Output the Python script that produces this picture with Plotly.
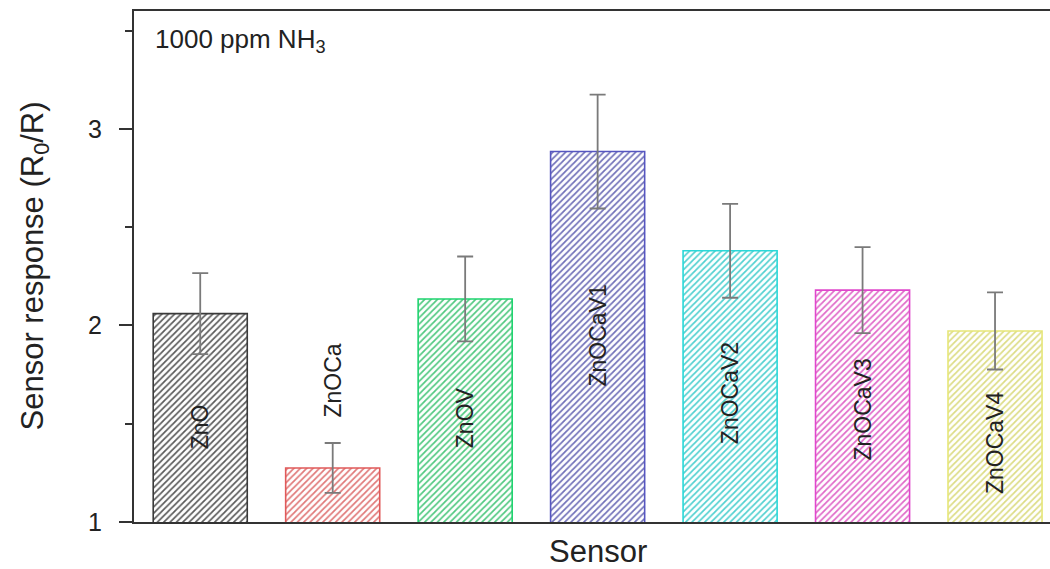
import plotly.graph_objects as go

# ---- data ----
sensors = ["ZnO", "ZnOCa", "ZnOV", "ZnOCaV1", "ZnOCaV2", "ZnOCaV3", "ZnOCaV4"]
response = [2.06, 1.275, 2.135, 2.885, 2.38, 2.18, 1.972]
response_err = [0.206, 0.127, 0.216, 0.29, 0.239, 0.219, 0.196]
label_y = [1.483, 1.718, 1.529, 1.947, 1.656, 1.570, 1.402]
y_ticks = [1, 2, 3]
y_minor_ticks = [1.5, 2.5, 3.5]

# ---- styles ----
line_colors = ["#3a3a3a", "#e05a5a", "#1fd36f", "#5656c0", "#2ad8d8", "#e048cc", "#e6e678"]
hatch_colors = ["#5a5a5a", "#e07878", "#50c880", "#7070b8", "#50d0d0", "#e068c8", "#dcdc84"]
bg_colors = ["#ededed", "#fcecec", "#e8f8ee", "#ececf8", "#e8fafa", "#fbecf8", "#fbfbe4"]

fig = go.Figure()
fig.add_trace(go.Bar(
    x=sensors,
    y=response,
    width=0.71,
    marker=dict(
        color=hatch_colors,
        line=dict(color=line_colors, width=1.6),
        pattern=dict(shape="/", fgcolor=hatch_colors, bgcolor=bg_colors,
                     size=4.5, solidity=0.38, fillmode="replace"),
    ),
    error_y=dict(type="data", array=response_err, color="#7a7a7a",
                 thickness=1.8, width=8),
    showlegend=False,
))

font_family = "Liberation Sans, Arial, sans-serif"

for s, ly in zip(sensors, label_y):
    fig.add_annotation(x=s, y=ly, xref="x", yref="y", text=s, textangle=-90,
                       showarrow=False, font=dict(family=font_family, size=23, color="#222222"))

fig.add_annotation(x=0.0207, y=0.978, xref="paper", yref="paper",
                   xanchor="left", yanchor="top", showarrow=False,
                   text="1000 ppm NH<sub>3</sub>",
                   font=dict(family=font_family, size=26, color="#222222"))

fig.add_annotation(x=0, y=0.5, xref="paper", yref="paper", xshift=-100,
                   xanchor="center", yanchor="middle", textangle=-90, showarrow=False,
                   text="Sensor response (R<sub>0</sub>/R)",
                   font=dict(family=font_family, size=31, color="#222222"))

fig.add_annotation(x=0.5066, y=0, xref="paper", yref="paper", yshift=-29,
                   xanchor="center", yanchor="middle", showarrow=False,
                   text="Sensor",
                   font=dict(family=font_family, size=31, color="#222222"))

fig.update_layout(
    width=1050, height=569,
    margin=dict(l=134, r=0, t=11, b=47),
    paper_bgcolor="white", plot_bgcolor="white",
    bargap=0.29,
    font=dict(family=font_family, color="#222222"),
)
fig.update_xaxes(
    range=[-0.5, 6.415], showticklabels=False, ticks="",
    showline=True, linecolor="#333333", linewidth=1.8, mirror=True,
    showgrid=False, zeroline=False,
)
fig.update_yaxes(
    range=[1, 3.6], tickvals=y_ticks, ticks="outside", ticklen=13, tickwidth=1.5,
    tickcolor="#333333", ticklabelstandoff=12,
    tickfont=dict(family=font_family, size=25, color="#222222"),
    minor=dict(tickvals=y_minor_ticks, ticks="outside", ticklen=7, tickwidth=1.5,
               tickcolor="#333333", showgrid=False),
    showline=True, linecolor="#333333", linewidth=2, mirror=False,
    showgrid=False, zeroline=False,
)

fig.write_html(
    "out.html",
    config={"displayModeBar": False},
    post_script="document.body.style.margin='0';document.body.style.padding='0';",
)
